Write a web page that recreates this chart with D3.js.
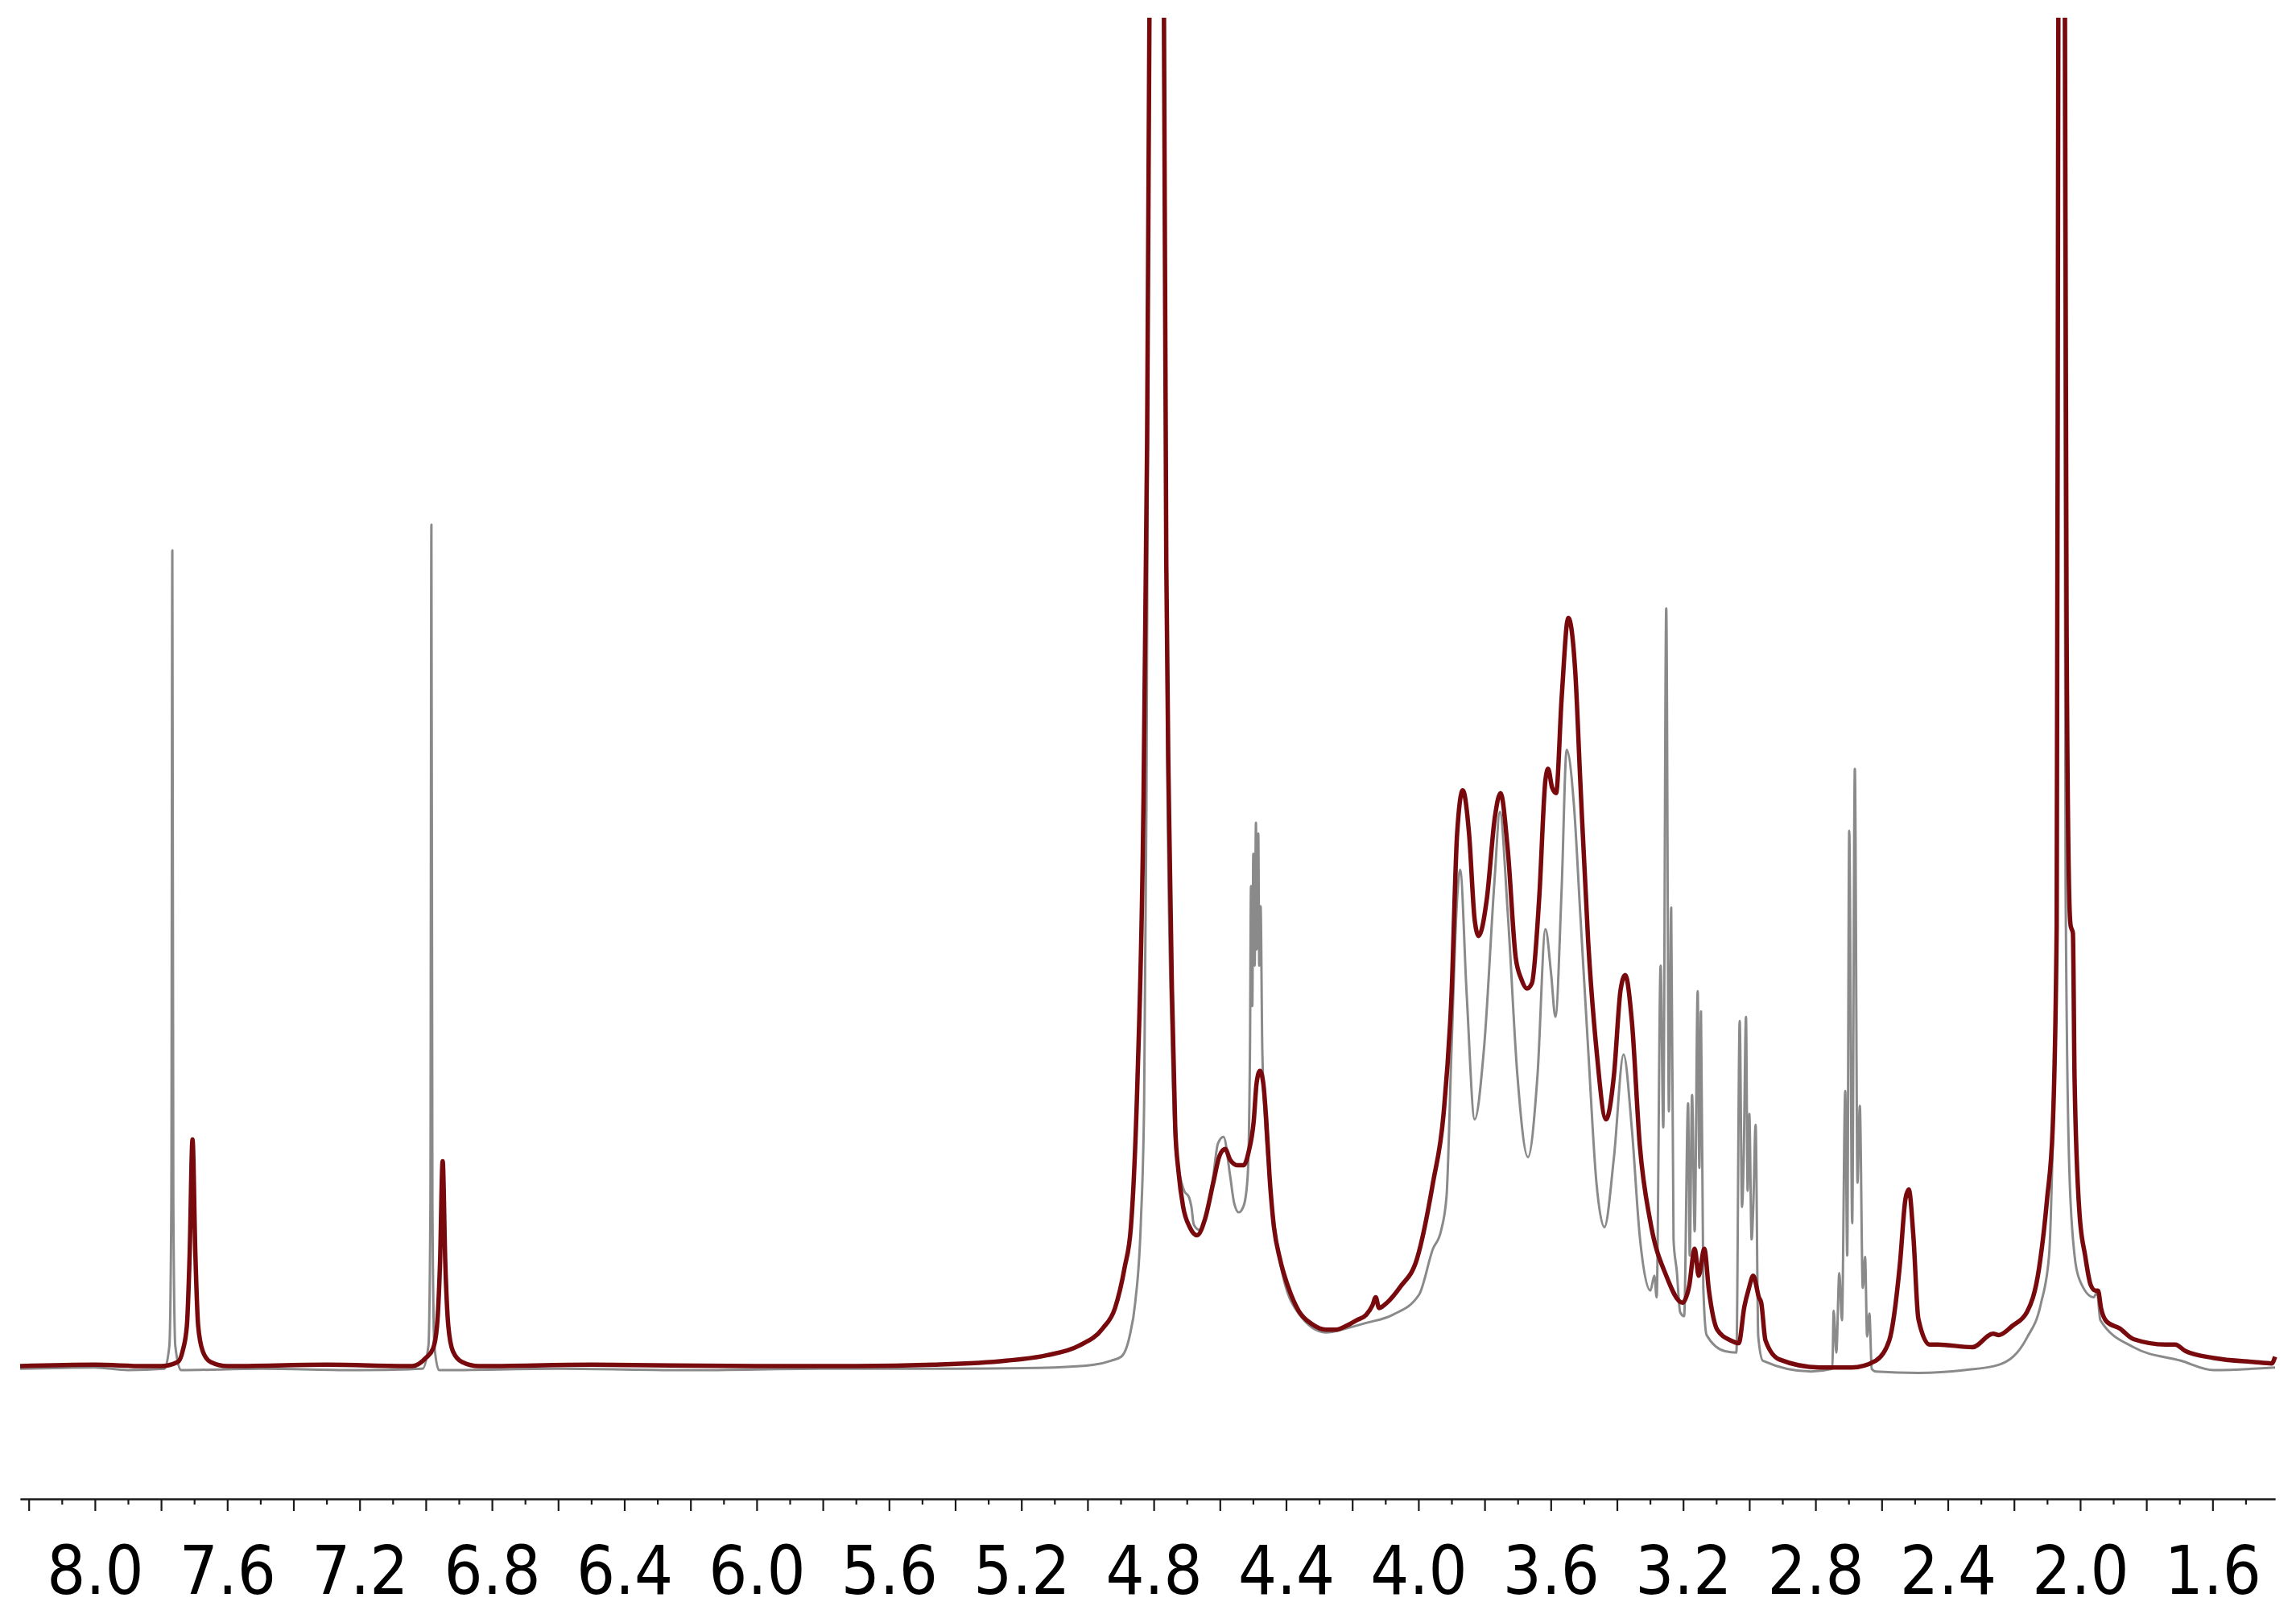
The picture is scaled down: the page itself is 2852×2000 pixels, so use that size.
<!DOCTYPE html>
<html>
<head>
<meta charset="utf-8">
<script src="https://cdn.jsdelivr.net/npm/d3@7"></script>
<style>
  html, body { margin: 0; padding: 0; background: #fff; }
  .axis path, .axis line { stroke: #1a1a1a; stroke-width: 2.2px; }
  .axis text { font-family: "DejaVu Sans Condensed", "DejaVu Sans", sans-serif; font-stretch: condensed; font-size: 84px; fill: #000; }
</style>
</head>
<body>
<div id="chart"></div>
<script>
// chemical shift (ppm), intensity (baseline 0, 100 = top of plot)
var graySpectrum = [
  [8.226,-0.2],[8.0,-0.1],[7.9,-0.3],[7.79,-0.2],[7.775,1.5],[7.769,12],[7.766,60.5],[7.763,12],[7.757,1.5],[7.74,-0.3],
  [7.5,-0.2],[7.2,-0.3],[7.01,-0.2],[6.992,1.5],[6.986,12],[6.983,62.4],[6.980,12],[6.974,1.5],[6.96,-0.3],
  [6.6,-0.2],[6.2,-0.3],[5.8,-0.2],[5.4,-0.2],[5.1,-0.1],[4.98,0.1],[4.929,0.4],[4.898,0.7],[4.873,2.2],[4.856,4.7],
  [4.839,10.6],[4.829,19.5],[4.822,41.6],[4.813,100],[4.791,160],[4.771,100],[4.759,44.6],[4.745,23.7],[4.735,16.5],
  [4.723,14.4],[4.708,13.0],[4.693,12.5],[4.686,11.8],[4.679,10.5],[4.662,10.1],[4.645,10.9],[4.620,14.1],[4.606,16.5],
  [4.589,17.0],[4.569,14.1],[4.557,12.1],[4.543,11.4],[4.528,11.9],[4.516,14.1],[4.509,23.7],[4.506,35.6],[4.502,26.7],
  [4.499,38.0],[4.495,29.7],[4.491,40.3],[4.489,30.9],[4.484,39.5],[4.481,29.7],[4.477,34.1],[4.472,23.7],[4.465,18.9],
  [4.450,13.9],[4.418,7.7],[4.362,3.9],[4.280,2.5],[4.217,2.8],[4.158,3.2],[4.078,3.8],[3.998,5.3],[3.956,8.7],
  [3.932,10.0],[3.915,12.6],[3.900,23.5],[3.883,34.7],[3.874,36.8],[3.854,27.5],[3.830,18.3],[3.802,23.5],[3.769,36.4],
  [3.754,41.1],[3.730,33.6],[3.701,21.6],[3.669,15.5],[3.640,21.6],[3.616,32.4],[3.599,29.1],[3.586,25.9],[3.567,35.5],
  [3.552,45.7],[3.530,41.6],[3.511,33.6],[3.487,23.5],[3.462,13.6],[3.438,10.3],[3.409,15.5],[3.380,23.1],[3.355,17.6],
  [3.331,9.6],[3.299,5.6],[3.287,6.7],[3.280,5.1],[3.268,29.7],[3.260,17.7],[3.251,56.2],[3.243,18.9],[3.236,34.0],
  [3.229,9.4],[3.219,7.0],[3.209,4.0],[3.197,3.7],[3.185,19.5],[3.180,8.2],[3.173,20.1],[3.165,10.0],[3.156,27.8],
  [3.151,14.7],[3.146,26.3],[3.139,5.8],[3.129,2.3],[3.073,1.1],[3.039,1.0],[3.029,25.6],[3.022,11.8],[3.017,15.3],
  [3.010,25.9],[3.005,13.0],[3.000,18.7],[2.993,9.4],[2.988,11.8],[2.981,17.9],[2.973,2.2],[2.959,0.4],[2.813,-0.4],
  [2.749,-0.2],[2.745,4.1],[2.737,1.0],[2.728,6.9],[2.720,3.4],[2.710,20.4],[2.704,8.2],[2.698,39.7],[2.689,10.6],
  [2.681,44.3],[2.673,13.6],[2.666,19.3],[2.657,5.8],[2.650,8.1],[2.644,2.2],[2.637,3.9],[2.630,-0.2],[2.618,-0.4],
  [2.489,-0.5],[2.350,-0.3],[2.246,0.1],[2.161,2.1],[2.119,4.6],[2.094,8.2],[2.083,16.5],[2.073,29.7],[2.066,100],
  [2.056,160],[2.049,100],[2.044,35.6],[2.033,14.7],[2.017,8.2],[2.002,6.4],[1.959,5.1],[1.949,5.5],[1.939,3.4],
  [1.839,1.4],[1.696,0.4],[1.596,-0.3],[1.411,-0.1]
];

var redSpectrum = [
  [8.226,0],[8.0,0.1],[7.85,0],[7.80,0],[7.75,0.3],[7.735,1.1],[7.722,3],[7.7135,8.4],[7.705,16.8],[7.6965,8.4],
  [7.688,3],[7.674,1.1],[7.65,0.3],[7.6,0],[7.3,0.1],[7.04,0],[7.0,0.6],[6.978,1.3],[6.966,3],[6.957,7.6],[6.949,15.2],
  [6.941,7.6],[6.932,3],[6.918,1.1],[6.89,0.3],[6.84,0],[6.5,0.1],[6.0,0],[5.7,0],[5.465,0.1],[5.246,0.4],[5.124,0.8],
  [5.027,1.5],[4.954,2.8],[4.917,4.3],[4.888,7.3],[4.869,10.3],[4.849,21.3],[4.832,39.8],[4.820,68.5],[4.813,100],
  [4.791,160],[4.769,100],[4.762,59.5],[4.754,41.6],[4.745,27.9],[4.735,17.7],[4.725,14.4],[4.711,11.8],[4.691,10.3],
  [4.669,9.7],[4.645,10.9],[4.620,13.6],[4.601,15.6],[4.584,16.1],[4.569,15.3],[4.547,14.9],[4.528,14.9],[4.513,15.9],
  [4.498,18.1],[4.489,21.0],[4.479,21.9],[4.469,21.0],[4.460,18.3],[4.450,14.1],[4.438,10.6],[4.418,7.9],[4.394,5.9],
  [4.362,4.1],[4.321,3.1],[4.280,2.7],[4.248,2.7],[4.217,3.0],[4.187,3.4],[4.158,3.8],[4.139,4.5],[4.129,5.1],
  [4.119,4.3],[4.095,4.7],[4.054,5.9],[4.005,7.9],[3.956,13.6],[3.924,18.7],[3.900,27.5],[3.883,39.5],[3.866,42.7],
  [3.847,39.5],[3.830,33.1],[3.818,31.9],[3.793,34.7],[3.769,40.7],[3.752,42.5],[3.730,38.3],[3.706,30.3],[3.689,28.7],
  [3.672,28.0],[3.657,28.4],[3.635,34.7],[3.616,43.5],[3.608,44.3],[3.596,42.9],[3.584,42.5],[3.567,49.6],[3.547,55.5],
  [3.526,51.5],[3.511,43.5],[3.487,31.5],[3.462,23.5],[3.433,18.3],[3.409,21.6],[3.389,27.9],[3.375,29.0],[3.355,25.6],
  [3.331,16.4],[3.299,10.7],[3.251,6.7],[3.202,4.7],[3.182,5.9],[3.165,8.7],[3.153,6.7],[3.136,8.7],[3.122,5.6],
  [3.097,2.7],[3.056,1.9],[3.032,1.7],[3.015,4.4],[3.002,5.7],[2.988,6.7],[2.971,5.1],[2.964,4.7],[2.951,1.9],
  [2.910,0.5],[2.788,-0.1],[2.691,-0.1],[2.618,0.4],[2.577,1.9],[2.545,7.5],[2.528,12.4],[2.518,13.1],[2.504,9.6],
  [2.489,3.5],[2.455,1.6],[2.431,1.6],[2.326,1.4],[2.263,2.4],[2.246,2.3],[2.204,3.0],[2.161,4.0],[2.124,7.3],
  [2.100,12.4],[2.083,17.7],[2.071,32.7],[2.066,100],[2.056,160],[2.046,100],[2.041,54.7],[2.033,34.7],[2.029,32.7],
  [2.022,32.1],[2.017,21.4],[2.002,11.3],[1.985,8.2],[1.968,6.0],[1.954,5.6],[1.946,5.6],[1.937,4.3],[1.920,3.3],
  [1.881,2.8],[1.839,2.0],[1.742,1.6],[1.713,1.6],[1.681,1.1],[1.596,0.6],[1.474,0.3],[1.421,0.2],[1.411,0.7]
];

var shiftLabels = [8.0, 7.6, 7.2, 6.8, 6.4, 6.0, 5.6, 5.2, 4.8, 4.4, 4.0, 3.6, 3.2, 2.8, 2.4, 2.0, 1.6];
var majorTicks = [8.2, 8.0, 7.8, 7.6, 7.4, 7.2, 7.0, 6.8, 6.6, 6.4, 6.2, 6.0, 5.8, 5.6, 5.4, 5.2, 5.0, 4.8,
  4.6, 4.4, 4.2, 4.0, 3.8, 3.6, 3.4, 3.2, 3.0, 2.8, 2.6, 2.4, 2.2, 2.0, 1.8, 1.6];
var minorTicks = [8.1, 7.9, 7.7, 7.5, 7.3, 7.1, 6.9, 6.7, 6.5, 6.3, 6.1, 5.9, 5.7, 5.5, 5.3, 5.1, 4.9, 4.7,
  4.5, 4.3, 4.1, 3.9, 3.7, 3.5, 3.3, 3.1, 2.9, 2.7, 2.5, 2.3, 2.1, 1.9, 1.7, 1.5];

(function () {
  var width = 2852,
      height = 2000,
      plotLeft = 25,
      plotRight = 2826,
      plotTop = 22,
      baseY = 1697,
      axisY = 1862;

  var x = d3.scaleLinear().domain([8.226, 1.411]).range([plotLeft, plotRight]),
      y = d3.scaleLinear().domain([0, 100]).range([baseY, plotTop]);

  var svg = d3.select("#chart").append("svg")
      .attr("width", width)
      .attr("height", height)
      .style("display", "block");

  svg.append("rect").attr("width", width).attr("height", height).attr("fill", "#fff");

  svg.append("clipPath").attr("id", "plot-clip")
    .append("rect")
      .attr("x", plotLeft - 5)
      .attr("y", plotTop)
      .attr("width", plotRight - plotLeft + 10)
      .attr("height", axisY - plotTop - 20);

  var line = d3.line()
      .x(function (d) { return x(d[0]); })
      .y(function (d) { return y(d[1]); })
      .curve(d3.curveMonotoneX);

  var plot = svg.append("g").attr("clip-path", "url(#plot-clip)");

  // reference spectrum (grey) under the sample (dark red)
  plot.append("path")
      .datum(graySpectrum)
      .attr("fill", "none")
      .attr("stroke", "#8a8a8a")
      .attr("stroke-width", 3)
      .attr("stroke-linejoin", "round")
      .attr("d", line);

  plot.append("path")
      .datum(redSpectrum)
      .attr("fill", "none")
      .attr("stroke", "#780a0d")
      .attr("stroke-width", 5.5)
      .attr("stroke-linejoin", "round")
      .attr("d", line);

  // minor ticks
  svg.append("g")
      .attr("class", "axis")
      .attr("transform", "translate(0," + axisY + ")")
      .call(d3.axisBottom(x).tickValues(minorTicks).tickSize(7).tickSizeOuter(0).tickFormat(""));

  // major ticks with labels
  var axis = svg.append("g")
      .attr("class", "axis")
      .attr("transform", "translate(0," + axisY + ")")
      .call(d3.axisBottom(x)
        .tickValues(majorTicks)
        .tickSize(15)
        .tickSizeOuter(0)
        .tickFormat(function (d) {
          return shiftLabels.some(function (s) { return Math.abs(s - d) < 1e-6; }) ? d3.format(".1f")(d) : "";
        }));

  axis.selectAll("text").attr("y", 58);
})();
</script>
</body>
</html>
